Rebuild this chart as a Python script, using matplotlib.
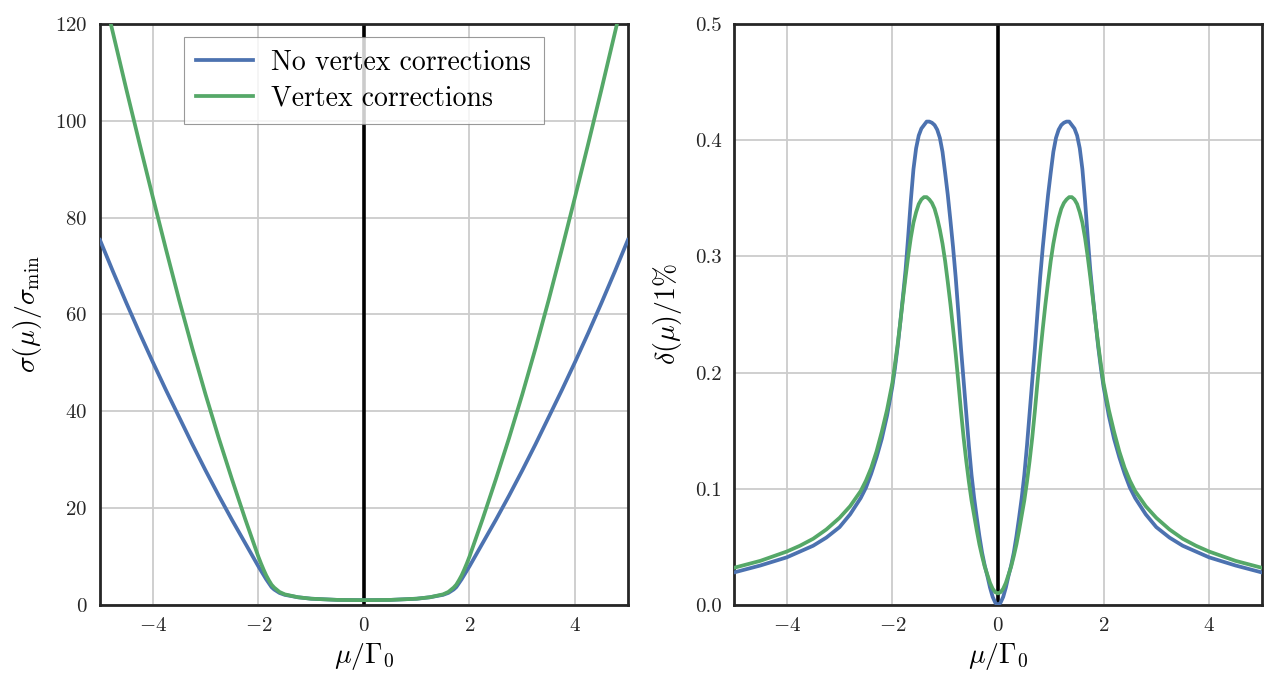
import numpy as np
import matplotlib
matplotlib.use("Agg")
import matplotlib.pyplot as plt

plt.rcParams['font.family'] = 'serif'
plt.rcParams['font.serif'] = ['cmr10']
plt.rcParams['mathtext.fontset'] = 'cm'
plt.rcParams['axes.formatter.use_mathtext'] = True
plt.rcParams['axes.unicode_minus'] = True

blue = '#4C72B0'
green = '#55A868'

# left panel: sigma(mu)/sigma_min
mu_sigma = [-5.0, -4.75, -4.5, -4.25, -4.0, -3.75, -3.5, -3.25, -3.0, -2.75, -2.5, -2.25,
            -2.0, -1.95, -1.9, -1.85, -1.8, -1.75, -1.7, -1.6, -1.5, -1.25, -1.0, -0.5, 0.0,
            0.5, 1.0, 1.25, 1.5, 1.6, 1.7, 1.75, 1.8, 1.85, 1.9, 1.95, 2.0,
            2.25, 2.5, 2.75, 3.0, 3.25, 3.5, 3.75, 4.0, 4.25, 4.5, 4.75, 5.0]
sigma_novc = [75.4, 68.8, 62.4, 56.2, 50.2, 44.4, 38.8, 33.2, 27.8, 22.6, 17.6, 12.8,
              8.0, 7.1, 6.2, 5.3, 4.5, 3.7, 3.2, 2.5, 2.1, 1.6, 1.3, 1.05, 1.0,
              1.05, 1.3, 1.6, 2.1, 2.5, 3.2, 3.7, 4.5, 5.3, 6.2, 7.1, 8.0,
              12.8, 17.6, 22.6, 27.8, 33.2, 38.8, 44.4, 50.2, 56.2, 62.4, 68.8, 75.4]
sigma_vc = [129.5, 118.0, 106.5, 95.3, 84.3, 73.5, 63.0, 53.0, 43.5, 34.5, 26.0, 17.8,
            10.0, 8.6, 7.3, 6.1, 5.1, 4.2, 3.6, 2.7, 2.2, 1.6, 1.3, 1.05, 1.0,
            1.05, 1.3, 1.6, 2.2, 2.7, 3.6, 4.2, 5.1, 6.1, 7.3, 8.6, 10.0,
            17.8, 26.0, 34.5, 43.5, 53.0, 63.0, 73.5, 84.3, 95.3, 106.5, 118.0, 129.5]

# right panel: delta(mu)/1%
mu_delta = [-5.0, -4.5, -4.0, -3.75, -3.5, -3.25, -3.0, -2.8, -2.6, -2.5, -2.4, -2.3, -2.2, -2.1,
            -2.0, -1.95, -1.9, -1.85, -1.8, -1.75, -1.7, -1.65, -1.6, -1.55, -1.5, -1.45, -1.4, -1.35,
            -1.3, -1.25, -1.2, -1.15, -1.1, -1.05, -1.0, -0.95, -0.9, -0.85, -0.8, -0.75, -0.7, -0.65,
            -0.6, -0.55, -0.5, -0.45, -0.4, -0.35, -0.3, -0.25, -0.2, -0.15, -0.1, -0.05,
            0.0, 0.05, 0.1, 0.15, 0.2, 0.25, 0.3, 0.35, 0.4, 0.45, 0.5, 0.55, 0.6, 0.65,
            0.7, 0.75, 0.8, 0.85, 0.9, 0.95, 1.0, 1.05, 1.1, 1.15, 1.2, 1.25, 1.3, 1.35,
            1.4, 1.45, 1.5, 1.55, 1.6, 1.65, 1.7, 1.75, 1.8, 1.85, 1.9, 1.95, 2.0,
            2.1, 2.2, 2.3, 2.4, 2.5, 2.6, 2.8, 3.0, 3.25, 3.5, 3.75, 4.0, 4.5, 5.0]
delta_novc = [0.028, 0.034, 0.041, 0.046, 0.051, 0.058, 0.067, 0.078, 0.092, 0.101, 0.113, 0.127, 0.143, 0.163,
              0.188, 0.204, 0.222, 0.243, 0.265, 0.288, 0.317, 0.348, 0.375, 0.393, 0.404, 0.410, 0.413, 0.416,
              0.416, 0.415, 0.413, 0.409, 0.402, 0.390, 0.372, 0.353, 0.331, 0.308, 0.282, 0.252, 0.221, 0.193,
              0.165, 0.137, 0.112, 0.092, 0.075, 0.059, 0.045, 0.034, 0.025, 0.015, 0.007, 0.002,
              0.000, 0.002, 0.007, 0.015, 0.025, 0.034, 0.045, 0.059, 0.075, 0.092, 0.112, 0.137, 0.165, 0.193,
              0.221, 0.252, 0.282, 0.308, 0.331, 0.353, 0.372, 0.390, 0.402, 0.409, 0.413, 0.415, 0.416, 0.416,
              0.413, 0.410, 0.404, 0.393, 0.375, 0.348, 0.317, 0.288, 0.265, 0.243, 0.222, 0.204, 0.188,
              0.163, 0.143, 0.127, 0.113, 0.101, 0.092, 0.078, 0.067, 0.058, 0.051, 0.046, 0.041, 0.034, 0.028]
delta_vc = [0.032, 0.038, 0.046, 0.051, 0.057, 0.065, 0.075, 0.085, 0.098, 0.107, 0.118, 0.132, 0.149, 0.168,
            0.191, 0.207, 0.224, 0.243, 0.263, 0.282, 0.300, 0.316, 0.329, 0.338, 0.345, 0.349, 0.351, 0.351,
            0.349, 0.346, 0.341, 0.333, 0.323, 0.311, 0.296, 0.278, 0.259, 0.238, 0.216, 0.192, 0.167, 0.144,
            0.124, 0.106, 0.090, 0.077, 0.064, 0.052, 0.042, 0.033, 0.026, 0.019, 0.014, 0.011,
            0.010, 0.011, 0.014, 0.019, 0.026, 0.033, 0.042, 0.052, 0.064, 0.077, 0.090, 0.106, 0.124, 0.144,
            0.167, 0.192, 0.216, 0.238, 0.259, 0.278, 0.296, 0.311, 0.323, 0.333, 0.341, 0.346, 0.349, 0.351,
            0.351, 0.349, 0.345, 0.338, 0.329, 0.316, 0.300, 0.282, 0.263, 0.243, 0.224, 0.207, 0.191,
            0.168, 0.149, 0.132, 0.118, 0.107, 0.098, 0.085, 0.075, 0.065, 0.057, 0.051, 0.046, 0.038, 0.032]

fig = plt.figure(figsize=(12.78, 6.95), dpi=100)
ax1 = fig.add_axes([0.0782, 0.1295, 0.4131, 0.836])
ax2 = fig.add_axes([0.5743, 0.1295, 0.4131, 0.836])

for ax in (ax1, ax2):
    ax.set_axisbelow(True)
    ax.grid(True, color='#cccccc', linewidth=1.3)
    for s in ax.spines.values():
        s.set_color('#262626')
        s.set_linewidth(2.0)
    ax.tick_params(length=0, pad=9, labelsize=15, colors='#262626')
    ax.axvline(0, color='black', linewidth=2.6, zorder=1)
    ax.set_xlim(-5, 5)
    ax.set_xticks([-4, -2, 0, 2, 4])
    ax.set_xlabel(r'$\mu/\Gamma_0$', fontsize=20, labelpad=4)

ax1.plot(mu_sigma, sigma_novc, color=blue, linewidth=2.7, label='No vertex corrections', zorder=3)
ax1.plot(mu_sigma, sigma_vc, color=green, linewidth=2.7, label='Vertex corrections', zorder=3)
ax1.set_ylim(0, 120)
ax1.set_yticks(np.arange(0, 121, 20))
ax1.set_ylabel(r'$\sigma(\mu)/\sigma_{\rm min}$', fontsize=20, labelpad=8)
leg = ax1.legend(loc='upper center', fontsize=20, frameon=True, fancybox=False,
                 bbox_to_anchor=(0.5, 0.978), borderaxespad=0, handlelength=2.05,
                 handletextpad=0.65, borderpad=0.45, labelspacing=0.35)
leg.get_frame().set_edgecolor('#808080')
leg.get_frame().set_linewidth(0.8)

ax2.plot(mu_delta, delta_novc, color=blue, linewidth=2.7, zorder=3)
ax2.plot(mu_delta, delta_vc, color=green, linewidth=2.7, zorder=3)
ax2.set_ylim(0, 0.5)
ax2.set_yticks([0.0, 0.1, 0.2, 0.3, 0.4, 0.5])
ax2.set_yticklabels(['0.0', '0.1', '0.2', '0.3', '0.4', '0.5'])
ax2.set_ylabel(r'$\delta(\mu)/1\%$', fontsize=20, labelpad=8)

fig.savefig('out.png', dpi=100)
